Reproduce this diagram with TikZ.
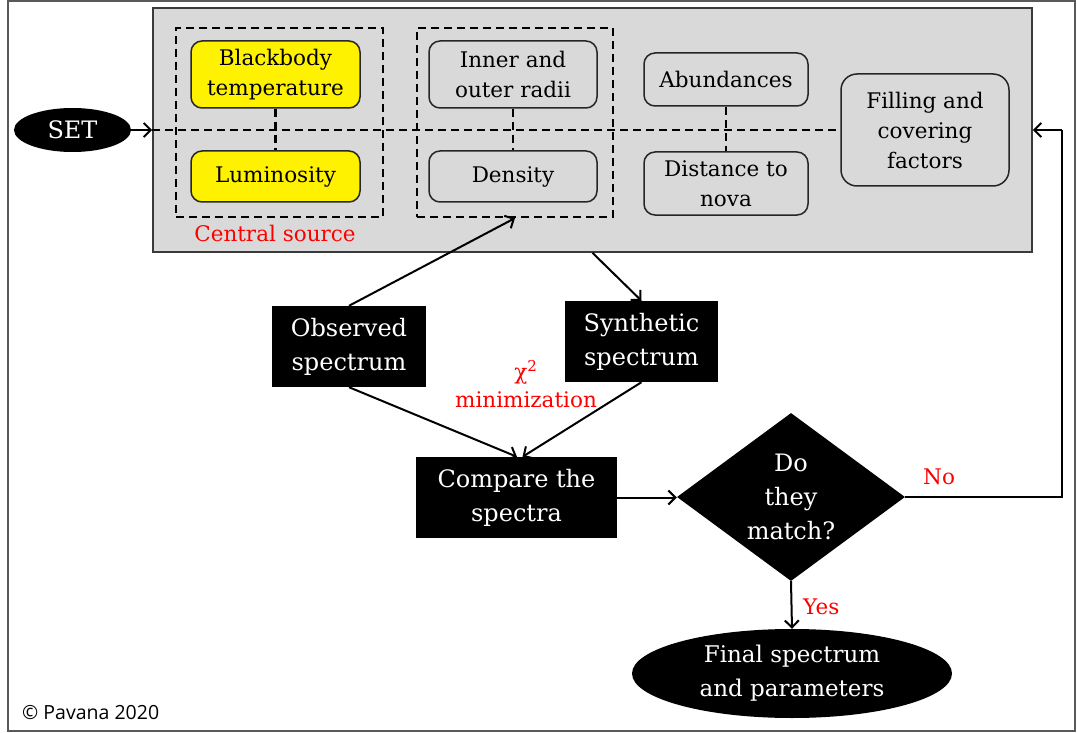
\documentclass[tikz,border=0pt]{standalone}
\usepackage{fontspec}
\setmainfont{DejaVu Serif}
\newfontfamily\copyfont{Open Sans}
\usetikzlibrary{shapes.geometric,arrows.meta,calc}
\definecolor{panel}{HTML}{D9D9D9}
\definecolor{framegray}{HTML}{595959}
\definecolor{edgegray}{HTML}{3A3A3A}
\begin{document}
\begin{tikzpicture}[x=1pt,y=-1pt,
  >={Straight Barb[length=7pt,width=14pt,line width=2pt]},
  param/.style={draw=black!85, line width=1.5pt, rounded corners=11pt, align=center,
    inner sep=0pt, font=\fontsize{21.5}{30}\selectfont},
  warm/.style={param, fill=yellow},
  cool/.style={param, fill=panel},
  group/.style={draw, line width=2.2pt, dash pattern=on 8pt off 5pt, inner sep=0pt},
  tie/.style={line width=2.2pt, dash pattern=on 8pt off 5pt},
  solid box/.style={fill=black, text=white, align=center, inner sep=0pt,
    font=\fontsize{24}{34}\selectfont},
  oval/.style={ellipse, fill=black, text=white, align=center, inner sep=0pt},
  flow/.style={->, line width=2pt},
  note/.style={text=red, align=center, inner sep=0pt, font=\fontsize{21.5}{28}\selectfont}]

\useasboundingbox (0,0) rectangle (1077,733);
\draw[framegray, line width=1.6pt] (8,1) rectangle (1075,731);

% parameter panel
\node[fill=panel, draw=edgegray, line width=1.7pt, minimum width=879pt, minimum height=244pt,
  inner sep=0pt] (panel) at (592.5,130) {};

\node[group, minimum width=207pt, minimum height=189pt] (src) at (279.5,122.5) {};
\node[group, minimum width=196pt, minimum height=189pt] (geo) at (515,122.5) {};

\node[warm, minimum width=169pt, minimum height=67pt] (bb) at (275.5,74.5) {Blackbody\\temperature};
\node[warm, minimum width=169pt, minimum height=51pt] (lum) at (275.5,176.5) {Luminosity};
\node[cool, minimum width=168pt, minimum height=67pt] (radii) at (513,74.5) {Inner and\\outer radii};
\node[cool, minimum width=168pt, minimum height=51pt] (dens) at (513,176.5) {Density};
\node[cool, minimum width=164pt, minimum height=53pt] (abund) at (726,79.5) {Abundances};
\node[cool, minimum width=164pt, minimum height=63pt] (dist) at (726,183.5) {Distance to\\nova};
\node[cool, minimum width=168pt, minimum height=112pt, rounded corners=16pt] (fill) at (925,130) {Filling and\\covering\\factors};

\draw[tie] (bb.south) -- (lum.north);
\draw[tie] (radii.south) -- (dens.north);
\draw[tie] (abund.south) -- (dist.north);
\draw[tie] (panel.west) -- (fill.west);

\node[note] (srclabel) at (275,233) {Central source};

% flow
\node[oval, minimum width=117pt, minimum height=44pt, font=\fontsize{24}{30}\selectfont] (set) at (72.5,130) {SET};
\node[solid box, minimum width=154pt, minimum height=81pt] (obs) at (349,346.5) {Observed\\spectrum};
\node[solid box, minimum width=153pt, minimum height=81pt] (syn) at (641.5,341.5) {Synthetic\\spectrum};
\node[solid box, minimum width=201pt, minimum height=81pt] (cmp) at (516.5,497.5) {Compare the\\spectra};
\node[diamond, aspect=1.36, fill=black, text=white, align=center, inner sep=0pt,
  minimum width=228pt, minimum height=168pt, font=\fontsize{24}{34}\selectfont] (match) at (791,497) {Do\\they\\match?};
\node[oval, minimum width=320pt, minimum height=89pt, font=\fontsize{23}{34}\selectfont] (final) at (792,673.5) {Final spectrum\\and parameters};

\node[note] (chi) at (526,384) {χ\textsuperscript{2}\\minimization};
\node[note, anchor=west] (no) at (923,477) {No};
\node[note, anchor=west] (yes) at (803,607) {Yes};

\coordinate (ret) at (1062,130);

\draw[flow] (set.east) -- (panel.west);
\draw[flow] (obs.north) -- (geo.south);
\draw[flow] (panel.south) -- (syn.north);
\draw[flow] (obs.south) -- ($(cmp.north)+(0.5,0)$);
\draw[flow] (syn.south) -- ($(cmp.north)+(6,0)$);
\draw[flow] (cmp.east) -- (cmp.east -| match.west);
\draw[line width=2pt] (match.east) -| (ret);
\draw[flow] (ret) -- (panel.east);
\draw[flow] (match.south) -- (final.north);

\node[anchor=west, inner sep=0pt, font=\copyfont\fontsize{19.5}{22}\selectfont] (copy) at (22,713) {© Pavana 2020};
\end{tikzpicture}
\end{document}
